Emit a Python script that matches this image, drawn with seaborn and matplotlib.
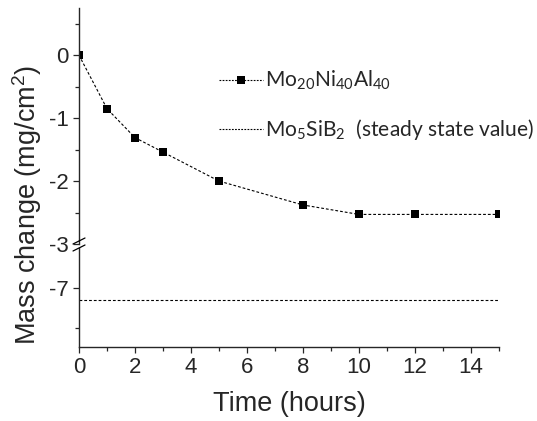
import numpy as np
import pandas as pd
import matplotlib
matplotlib.use("Agg")
import matplotlib.pyplot as plt
from matplotlib.ticker import MultipleLocator, FixedLocator
import seaborn as sns

# Data
time_h = [0, 1, 2, 3, 5, 8, 10, 12, 15]
mass_change = [0.0, -0.85, -1.31, -1.54, -2.0, -2.38, -2.53, -2.53, -2.53]
steady_value = -7.15
label_alloy = r"Mo$\mathregular{_{20}}$Ni$\mathregular{_{40}}$Al$\mathregular{_{40}}$"
label_ref = r"Mo$\mathregular{_{5}}$SiB$\mathregular{_{2}}$  (steady state value)"
x_ticks = [0, 2, 4, 6, 8, 10, 12, 14]
y_ticks_top = [0, -1, -2, -3]
y_ticks_bot = [-7]

sns.set_style("ticks")
plt.rcParams["font.family"] = ["Liberation Sans", "DejaVu Sans"]
plt.rcParams["mathtext.default"] = "regular"

fig = plt.figure(figsize=(5.37, 4.21), dpi=100)
W, H = 537, 421
x0, x1 = 79, 499
ax_top = fig.add_axes([x0 / W, 1 - 244 / H, (x1 - x0) / W, (244 - 8) / H])
ax_bot = fig.add_axes([x0 / W, 1 - 347 / H, (x1 - x0) / W, (347 - 248) / H])

df = pd.DataFrame({"t": time_h, "m": mass_change})
dash = (2.5, 1.8)
sns.lineplot(data=df, x="t", y="m", ax=ax_top, color="black", lw=0.8,
             marker="s", markersize=6, markeredgewidth=0, dashes=False,
             linestyle=(0, dash), legend=False)
ax_top.lines[-1].set_clip_on(True)

for ax in (ax_top, ax_bot):
    ax.axhline(steady_value, color="black", lw=0.8, linestyle=(0, (2.5, 1.8)))
ref_handle = matplotlib.lines.Line2D([], [], color="black", lw=0.8, linestyle=(0, (1.6, 1.2)))
alloy_handle = matplotlib.lines.Line2D([], [], color="black", lw=0.8, linestyle=(0, (1.6, 1.2)),
                                       marker="s", markersize=6, markeredgewidth=0)

ax_top.set_xlim(0, 15)
ax_bot.set_xlim(0, 15)
ax_top.set_ylim(-3, 0.75)
ax_bot.set_ylim(-7.74, -6.49)

for ax in (ax_top, ax_bot):
    sns.despine(ax=ax, top=True, right=True)
    ax.tick_params(axis="both", which="major", length=4.5, width=0.9, direction="out",
                   labelsize=16, pad=3)
    ax.tick_params(axis="both", which="minor", length=3, width=0.9, direction="out")
    ax.spines["left"].set_linewidth(1.0)
    ax.spines["bottom"].set_linewidth(1.0)
    ax.set_ylabel("")
    ax.set_xlabel("")
    ax.patch.set_alpha(0)

ax_top.spines["bottom"].set_visible(False)
ax_top.tick_params(axis="x", which="both", bottom=False, labelbottom=False)
ax_top.yaxis.set_major_locator(FixedLocator(y_ticks_top))
ax_top.yaxis.set_minor_locator(FixedLocator([0.5, -0.5, -1.5, -2.5]))
ax_top.set_yticklabels([str(v) for v in y_ticks_top])

ax_bot.yaxis.set_major_locator(FixedLocator(y_ticks_bot))
ax_bot.yaxis.set_minor_locator(FixedLocator([-7.5]))
ax_bot.set_yticklabels([str(v) for v in y_ticks_bot])
ax_bot.xaxis.set_major_locator(FixedLocator(x_ticks))
ax_bot.xaxis.set_minor_locator(MultipleLocator(1))
ax_bot.set_xticklabels([str(v) for v in x_ticks])
ax_bot.set_xlabel("Time (hours)", fontsize=19.5, labelpad=9)

fig.text(27 / W, 1 - 205 / H, "Mass change (mg/cm$^{2}$)", rotation=90,
         fontsize=19.5, ha="center", va="center")

# break marks
for yy in (241, 248):
    fig.add_artist(matplotlib.lines.Line2D([(x0 - 6) / W, (x0 + 6) / W],
                                           [1 - (yy + 3) / H, 1 - (yy - 3) / H],
                                           color="black", lw=0.9))

leg = ax_top.legend([alloy_handle, ref_handle], [label_alloy, label_ref],
                    loc="upper left", bbox_to_anchor=((219 - x0) / (x1 - x0), 1 - (69 - 8) / (244 - 8)),
                    frameon=False, handlelength=2.1, handletextpad=0.1,
                    labelspacing=1.2, borderaxespad=0, borderpad=0,
                    prop={"family": ["Lato", "DejaVu Sans"], "size": 15.1})

fig.savefig("out.png", dpi=100)
